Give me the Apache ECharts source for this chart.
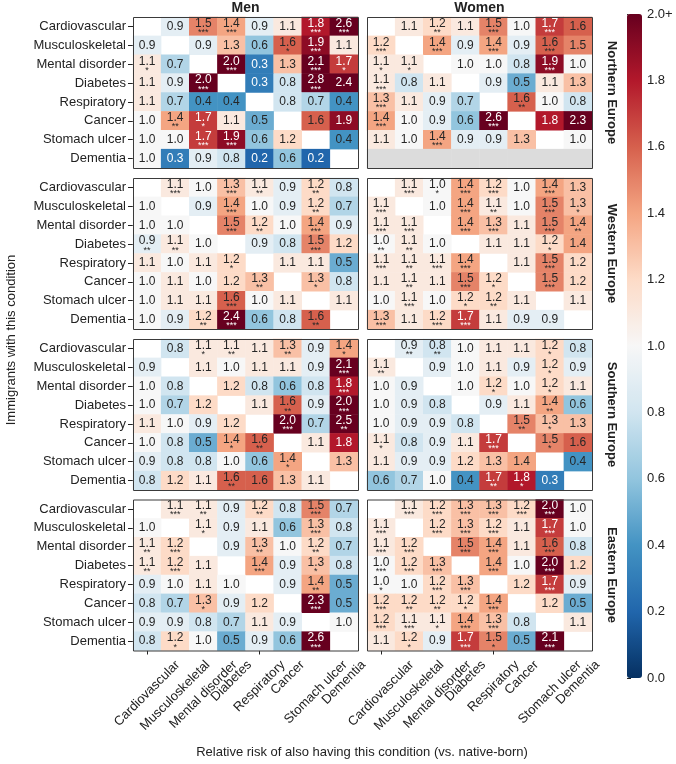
<!DOCTYPE html>
<html>
<head>
<meta charset="utf-8">
<script src="https://cdn.jsdelivr.net/npm/echarts@6/dist/echarts.min.js"></script>
<style>
html, body { margin: 0; padding: 0; background: #fff; }
#chart { width: 676px; height: 764px; }
</style>
</head>
<body>
<div id="chart"></div>
<script>
const conditions = ['Cardiovascular', 'Musculoskeletal', 'Mental disorder', 'Diabetes',
    'Respiratory', 'Cancer', 'Stomach ulcer', 'Dementia'];
const regions = ['Northern Europe', 'Western Europe', 'Southern Europe', 'Eastern Europe'];
const sexes = ['Men', 'Women'];

// rows = immigrants with this condition, cols = also having this condition
// null = diagonal; stars = significance level (number of *)
const menNorthern = [
    [null, 0.9, 1.5, 1.4, 0.9, 1.1, 1.8, 2.6],
    [0.9, null, 0.9, 1.3, 0.6, 1.6, 1.9, 1.1],
    [1.1, 0.7, null, 2.0, 0.3, 1.3, 2.1, 1.7],
    [1.1, 0.9, 2.0, null, 0.3, 0.8, 2.8, 2.4],
    [1.1, 0.7, 0.4, 0.4, null, 0.8, 0.7, 0.4],
    [1.0, 1.4, 1.7, 1.1, 0.5, null, 1.6, 1.9],
    [1.0, 1.0, 1.7, 1.9, 0.6, 1.2, null, 0.4],
    [1.0, 0.3, 0.9, 0.8, 0.2, 0.6, 0.2, null]
];
const menNorthernStars = [
    [0, 0, 3, 3, 0, 0, 3, 3],
    [0, 0, 0, 0, 0, 1, 3, 0],
    [1, 0, 0, 3, 0, 0, 3, 1],
    [0, 0, 3, 0, 0, 0, 3, 0],
    [0, 0, 0, 0, 0, 0, 0, 0],
    [0, 2, 1, 0, 0, 0, 0, 0],
    [0, 0, 3, 3, 0, 0, 0, 0],
    [0, 0, 0, 0, 0, 0, 0, 0]
];
const womenNorthern = [
    [null, 1.1, 1.2, 1.1, 1.5, 1.0, 1.7, 1.6],
    [1.2, null, 1.4, 0.9, 1.4, 0.9, 1.6, 1.5],
    [1.1, 1.1, null, 1.0, 1.0, 0.8, 1.9, 1.0],
    [1.1, 0.8, 1.1, null, 0.9, 0.5, 1.1, 1.3],
    [1.3, 1.1, 0.9, 0.7, null, 1.6, 1.0, 0.8],
    [1.4, 1.0, 0.9, 0.6, 2.6, null, 1.8, 2.3],
    [1.1, 1.0, 1.4, 0.9, 0.9, 1.3, null, 1.0],
    [null, null, null, null, null, null, null, null]
];
const womenNorthernStars = [
    [0, 0, 2, 0, 3, 0, 3, 0],
    [3, 0, 3, 0, 3, 0, 3, 0],
    [1, 1, 0, 0, 0, 0, 3, 0],
    [3, 0, 0, 0, 0, 0, 0, 0],
    [3, 0, 0, 0, 0, 2, 0, 0],
    [3, 0, 0, 0, 3, 0, 0, 0],
    [0, 0, 3, 0, 0, 0, 0, 0],
    [0, 0, 0, 0, 0, 0, 0, 0]
];
// women with dementia in Northern Europe: no data (grey row)
const womenNorthernNoDataRow = 'Dementia';

const menWestern = [
    [null, 1.1, 1.0, 1.3, 1.1, 0.9, 1.2, 0.8],
    [1.0, null, 0.9, 1.4, 1.0, 0.9, 1.2, 0.7],
    [1.0, 1.0, null, 1.5, 1.2, 1.0, 1.4, 0.9],
    [0.9, 1.1, 1.0, null, 0.9, 0.8, 1.5, 1.2],
    [1.1, 1.0, 1.1, 1.2, null, 1.1, 1.1, 0.5],
    [1.0, 1.1, 1.0, 1.2, 1.3, null, 1.3, 0.8],
    [1.0, 1.1, 1.1, 1.6, 1.0, 1.1, null, 1.1],
    [1.0, 0.9, 1.2, 2.4, 0.6, 0.8, 1.6, null]
];
const menWesternStars = [
    [0, 3, 0, 3, 2, 0, 2, 0],
    [0, 0, 0, 3, 0, 0, 2, 0],
    [0, 0, 0, 3, 2, 0, 3, 0],
    [2, 2, 0, 0, 0, 0, 3, 0],
    [0, 0, 0, 1, 0, 0, 0, 0],
    [0, 0, 0, 0, 2, 0, 1, 0],
    [0, 0, 0, 3, 0, 0, 0, 0],
    [0, 0, 2, 3, 0, 0, 2, 0]
];
const womenWestern = [
    [null, 1.1, 1.0, 1.4, 1.2, 1.0, 1.4, 1.3],
    [1.1, null, 1.0, 1.4, 1.1, 1.0, 1.5, 1.3],
    [1.1, 1.1, null, 1.4, 1.3, 1.1, 1.5, 1.4],
    [1.0, 1.1, 1.0, null, 1.1, 1.1, 1.2, 1.4],
    [1.1, 1.1, 1.1, 1.4, null, 1.1, 1.5, 1.2],
    [1.1, 1.1, 1.1, 1.5, 1.2, null, 1.5, 1.2],
    [1.0, 1.1, 1.0, 1.2, 1.2, 1.1, null, 1.1],
    [1.3, 1.1, 1.2, 1.7, 1.1, 0.9, 0.9, null]
];
const womenWesternStars = [
    [0, 3, 1, 3, 3, 0, 3, 0],
    [3, 0, 0, 3, 2, 0, 3, 1],
    [3, 3, 0, 3, 3, 0, 3, 2],
    [2, 2, 0, 0, 0, 0, 1, 0],
    [3, 2, 3, 3, 0, 0, 3, 0],
    [0, 2, 0, 3, 1, 0, 3, 0],
    [0, 3, 0, 1, 2, 0, 0, 0],
    [3, 0, 3, 3, 0, 0, 0, 0]
];

const menSouthern = [
    [null, 0.8, 1.1, 1.1, 1.1, 1.3, 0.9, 1.4],
    [0.9, null, 1.1, 1.0, 1.1, 1.1, 0.9, 2.1],
    [1.0, 0.8, null, 1.2, 0.8, 0.6, 0.8, 1.8],
    [1.0, 0.7, 1.2, null, 1.1, 1.6, 0.9, 2.0],
    [1.1, 1.0, 0.9, 1.2, null, 2.0, 0.7, 2.5],
    [1.0, 0.8, 0.5, 1.4, 1.6, null, 1.1, 1.8],
    [0.9, 0.8, 0.8, 1.0, 0.6, 1.4, null, 1.3],
    [0.8, 1.2, 1.1, 1.6, 1.6, 1.3, 1.1, null]
];
const menSouthernStars = [
    [0, 0, 1, 2, 0, 2, 0, 1],
    [0, 0, 0, 0, 0, 0, 0, 3],
    [0, 0, 0, 0, 0, 0, 0, 3],
    [0, 0, 0, 0, 0, 2, 0, 3],
    [0, 0, 0, 0, 0, 3, 0, 2],
    [0, 0, 0, 1, 2, 0, 0, 0],
    [0, 0, 0, 0, 0, 1, 0, 0],
    [0, 0, 0, 2, 0, 0, 0, 0]
];
const womenSouthern = [
    [null, 0.9, 0.8, 1.0, 1.1, 1.1, 1.2, 0.8],
    [1.1, null, 0.9, 1.0, 1.1, 0.9, 1.2, 0.9],
    [1.0, 0.9, null, 1.0, 1.2, 1.0, 1.2, 1.1],
    [1.0, 0.9, 0.8, null, 0.9, 1.1, 1.4, 0.6],
    [1.0, 0.9, 0.9, 0.8, null, 1.5, 1.3, 1.3],
    [1.1, 0.8, 0.9, 1.1, 1.7, null, 1.5, 1.6],
    [1.1, 0.9, 0.9, 1.2, 1.3, 1.4, null, 0.4],
    [0.6, 0.7, 1.0, 0.4, 1.7, 1.8, 0.3, null]
];
const womenSouthernStars = [
    [0, 2, 2, 0, 0, 0, 1, 0],
    [2, 0, 0, 0, 0, 0, 1, 0],
    [0, 0, 0, 0, 1, 0, 1, 0],
    [0, 0, 0, 0, 0, 0, 2, 0],
    [0, 0, 0, 0, 0, 2, 1, 0],
    [1, 0, 0, 0, 3, 0, 1, 0],
    [0, 0, 0, 0, 0, 0, 0, 0],
    [0, 0, 0, 0, 2, 1, 0, 0]
];

const menEastern = [
    [null, 1.1, 1.1, 0.9, 1.2, 0.8, 1.5, 0.7],
    [1.0, null, 1.1, 0.9, 1.1, 0.6, 1.3, 0.8],
    [1.1, 1.2, null, 0.9, 1.3, 1.0, 1.2, 0.7],
    [1.1, 1.2, 1.1, null, 1.4, 0.9, 1.3, 0.8],
    [0.9, 1.0, 1.1, 1.0, null, 0.9, 1.4, 0.5],
    [0.8, 0.7, 1.3, 0.9, 1.2, null, 2.3, 0.5],
    [0.9, 0.9, 0.8, 0.7, 1.1, 0.9, null, 1.0],
    [0.8, 1.2, 1.0, 0.5, 0.9, 0.6, 2.6, null]
];
const menEasternStars = [
    [0, 3, 2, 0, 2, 0, 3, 0],
    [0, 0, 1, 0, 0, 0, 3, 0],
    [2, 3, 0, 0, 2, 0, 2, 0],
    [2, 3, 0, 0, 3, 0, 1, 0],
    [0, 0, 0, 0, 0, 0, 2, 0],
    [0, 0, 1, 0, 0, 0, 3, 0],
    [0, 0, 0, 0, 0, 0, 0, 0],
    [0, 1, 0, 0, 0, 0, 3, 0]
];
const womenEastern = [
    [null, 1.1, 1.2, 1.3, 1.3, 1.2, 2.0, 1.0],
    [1.1, null, 1.2, 1.3, 1.2, 1.1, 1.7, 1.0],
    [1.1, 1.2, null, 1.5, 1.4, 1.1, 1.6, 0.8],
    [1.0, 1.2, 1.3, null, 1.4, 1.0, 2.0, 1.2],
    [1.0, 1.0, 1.2, 1.3, null, 1.2, 1.7, 0.9],
    [1.2, 1.2, 1.2, 1.2, 1.4, null, 1.2, 0.5],
    [1.2, 1.1, 1.1, 1.4, 1.3, 0.8, null, 1.1],
    [1.1, 1.2, 0.9, 1.7, 1.5, 0.5, 2.1, null]
];
const womenEasternStars = [
    [0, 3, 3, 3, 3, 3, 3, 0],
    [3, 0, 3, 3, 3, 0, 3, 0],
    [3, 3, 0, 3, 3, 0, 3, 0],
    [3, 3, 3, 0, 3, 0, 3, 0],
    [1, 0, 3, 3, 0, 0, 3, 0],
    [3, 2, 2, 1, 3, 0, 0, 0],
    [3, 3, 1, 3, 3, 0, 0, 0],
    [0, 1, 0, 3, 1, 0, 3, 0]
];

// colour scale: relative risk 0 .. 2.0+
const scaleMin = 0;
const scaleMax = 2;
const scaleStep = 0.2;

const panels = [
    [[menNorthern, menNorthernStars], [womenNorthern, womenNorthernStars]],
    [[menWestern, menWesternStars], [womenWestern, womenWesternStars]],
    [[menSouthern, menSouthernStars], [womenSouthern, womenSouthernStars]],
    [[menEastern, menEasternStars], [womenEastern, womenEasternStars]]
];

const font = '"Liberation Sans", Arial, Helvetica, sans-serif';
const rdbu = ['#053061', '#2166ac', '#4393c3', '#92c5de', '#d1e5f0', '#f7f7f7',
    '#fddbc7', '#f4a582', '#d6604d', '#b2182b', '#67001f'];

const gridLeft = [133, 367];
const gridWidth = [225, 225];
const gridTop = [17, 178, 339, 499.5];
const gridHeight = 151;

let grids = [], xAxes = [], yAxes = [], series = [], graphics = [];
let heatIdx = [];

for (let r = 0; r < 4; r++) {
    for (let s = 0; s < 2; s++) {
        let gi = grids.length;
        let vals = panels[r][s][0];
        let stars = panels[r][s][1];
        grids.push({ left: gridLeft[s], top: gridTop[r], width: gridWidth[s], height: gridHeight });
        xAxes.push({
            gridIndex: gi, type: 'category', data: conditions,
            axisLine: { show: false },
            axisTick: { show: r === 3, alignWithLabel: true, length: 4, lineStyle: { color: '#222' } },
            axisLabel: { show: false },
            splitLine: { show: false }
        });
        yAxes.push({
            gridIndex: gi, type: 'category', data: conditions, inverse: true,
            axisLine: { show: false },
            axisTick: { show: s === 0, alignWithLabel: true, length: 5, lineStyle: { color: '#222' } },
            axisLabel: { show: s === 0, interval: 0, fontSize: 13, color: '#222', fontFamily: font, margin: 7 },
            splitLine: { show: false }
        });

        let items = [];
        for (let i = 0; i < 8; i++) {
            for (let j = 0; j < 8; j++) {
                let v = vals[i][j];
                if (v === null) continue;
                let light = v >= 1.7 || v <= 0.3;
                items.push({
                    value: [j, i, v, Math.min(v, scaleMax)],
                    stars: stars[i][j],
                    label: { color: light ? '#ffffff' : '#262626' }
                });
            }
        }
        heatIdx.push(series.length);
        series.push({
            type: 'heatmap', xAxisIndex: gi, yAxisIndex: gi, data: items,
            itemStyle: { borderWidth: 0 },
            emphasis: { disabled: true },
            label: {
                show: true, fontFamily: font,
                formatter: p => {
                    let t = '{v|' + p.data.value[2].toFixed(1) + '}';
                    if (p.data.stars) t += '\n{s|' + '*'.repeat(p.data.stars) + '}';
                    return t;
                },
                rich: {
                    v: { fontSize: 12, lineHeight: 12, fontFamily: font },
                    s: { fontSize: 9, lineHeight: 6, fontFamily: font }
                }
            }
        });

        if (r === 0 && s === 1) {
            let row = conditions.indexOf(womenNorthernNoDataRow);
            series.push({
                type: 'heatmap', xAxisIndex: gi, yAxisIndex: gi,
                data: conditions.map((c, j) => [j, row, 0]),
                itemStyle: { color: '#dcdcdc' },
                emphasis: { disabled: true },
                label: { show: false }
            });
        }

        graphics.push({
            type: 'rect', z: 100, silent: true,
            shape: { x: gridLeft[s] + 0.5, y: gridTop[r] + 0.5, width: gridWidth[s], height: gridHeight },
            style: { fill: 'none', stroke: '#3a3a3a', lineWidth: 1 }
        });
        if (s === 1) {
            graphics.push({
                type: 'text', x: 612, y: gridTop[r] + gridHeight / 2, rotation: -Math.PI / 2,
                style: {
                    text: regions[r], fontSize: 13, fontWeight: 'bold', fontFamily: font, fill: '#222',
                    align: 'center', verticalAlign: 'middle', textAlign: 'center', textVerticalAlign: 'middle'
                }
            });
        }
    }
}

sexes.forEach((sx, s) => {
    graphics.push({
        type: 'text', x: gridLeft[s] + gridWidth[s] / 2, y: 8,
        style: {
            text: sx, fontSize: 14, fontWeight: 'bold', fontFamily: font, fill: '#222',
            align: 'center', verticalAlign: 'middle', textAlign: 'center', textVerticalAlign: 'middle'
        }
    });
});
graphics.push({
    type: 'text', x: 11, y: 340, rotation: Math.PI / 2,
    style: {
        text: 'Immigrants with this condition', fontSize: 13, fontFamily: font, fill: '#222',
        align: 'center', verticalAlign: 'middle', textAlign: 'center', textVerticalAlign: 'middle'
    }
});
graphics.push({
    type: 'text', x: 362, y: 752,
    style: {
        text: 'Relative risk of also having this condition (vs. native-born)', fontSize: 13,
        fontFamily: font, fill: '#222',
        align: 'center', verticalAlign: 'middle', textAlign: 'center', textVerticalAlign: 'middle'
    }
});

// colour bar tick axis
let cbTop = 14, cbHeight = 664, cbLeft = 627, cbWidth = 15;
let cbi = grids.length;
grids.push({ left: cbLeft, top: cbTop, width: cbWidth, height: cbHeight });
xAxes.push({ gridIndex: cbi, type: 'value', show: false });
yAxes.push({
    gridIndex: cbi, type: 'value', position: 'right', min: scaleMin, max: scaleMax, interval: scaleStep,
    axisLine: { show: false },
    axisTick: { show: true, length: 4, lineStyle: { color: '#222' } },
    axisLabel: {
        fontSize: 13, color: '#222', fontFamily: font, margin: 5,
        formatter: v => v > scaleMax - 0.01 ? scaleMax.toFixed(1) + '+' : v.toFixed(1)
    },
    splitLine: { show: false }
});

let chart = echarts.init(document.getElementById('chart'));
chart.setOption({
    backgroundColor: '#fff',
    animation: false,
    grid: grids,
    xAxis: xAxes,
    yAxis: yAxes,
    visualMap: {
        type: 'continuous', seriesIndex: heatIdx, dimension: 3,
        min: scaleMin, max: scaleMax, calculable: false, hoverLink: false,
        left: cbLeft, top: cbTop, itemWidth: cbWidth, itemHeight: cbHeight, padding: 0,
        inRange: { color: rdbu }
    },
    series: series,
    graphic: graphics
});

// x tick labels of the bottom panels: rotated 45deg, bounding box centred under the tick
const measure = document.createElement('canvas').getContext('2d');
measure.font = '13px ' + font;
const axisBottom = gridTop[3] + gridHeight;
[6, 7].forEach(gi => {
    conditions.forEach(c => {
        let px = chart.convertToPixel({ xAxisIndex: gi }, c);
        let w = measure.measureText(c).width;
        graphics.push({
            type: 'text', x: px, y: axisBottom + 7 + 0.354 * (w + 15), rotation: Math.PI / 4,
            style: {
                text: c, fontSize: 13, fontFamily: font, fill: '#222',
                align: 'center', verticalAlign: 'middle', textAlign: 'center', textVerticalAlign: 'middle'
            }
        });
    });
});
chart.setOption({ graphic: graphics });
</script>
</body>
</html>
